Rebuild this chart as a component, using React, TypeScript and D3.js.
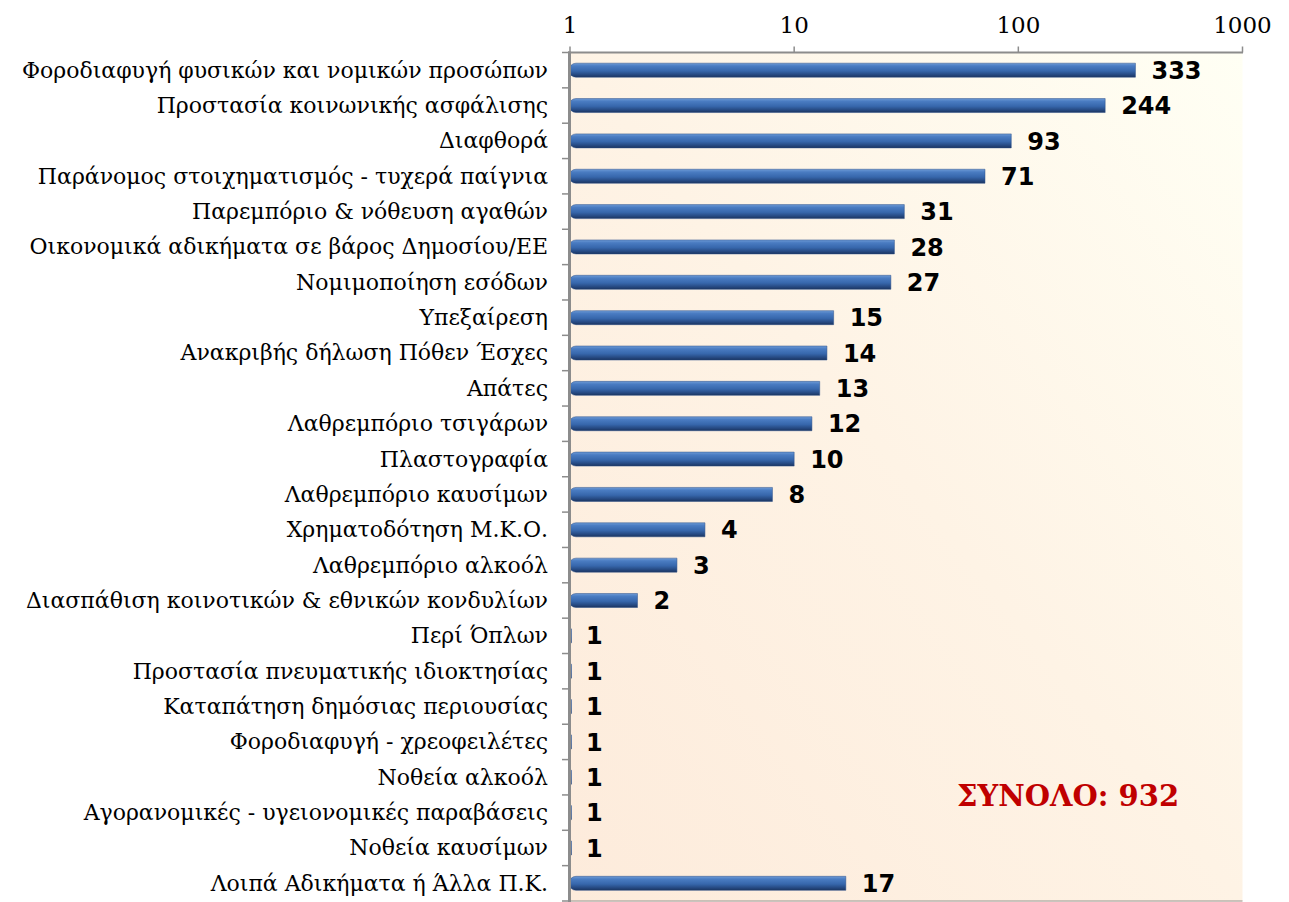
import React from "react";
import * as d3 from "d3";

const categories: string[] = [
  "Φοροδιαφυγή φυσικών και νομικών προσώπων",
  "Προστασία κοινωνικής ασφάλισης",
  "Διαφθορά",
  "Παράνομος στοιχηματισμός - τυχερά παίγνια",
  "Παρεμπόριο & νόθευση αγαθών",
  "Οικονομικά αδικήματα σε βάρος Δημοσίου/ΕΕ",
  "Νομιμοποίηση εσόδων",
  "Υπεξαίρεση",
  "Ανακριβής δήλωση Πόθεν Έσχες",
  "Απάτες",
  "Λαθρεμπόριο τσιγάρων",
  "Πλαστογραφία",
  "Λαθρεμπόριο καυσίμων",
  "Χρηματοδότηση Μ.Κ.Ο.",
  "Λαθρεμπόριο αλκοόλ",
  "Διασπάθιση κοινοτικών & εθνικών κονδυλίων",
  "Περί Όπλων",
  "Προστασία πνευματικής ιδιοκτησίας",
  "Καταπάτηση δημόσιας περιουσίας",
  "Φοροδιαφυγή - χρεοφειλέτες",
  "Νοθεία αλκοόλ",
  "Αγορανομικές - υγειονομικές παραβάσεις",
  "Νοθεία καυσίμων",
  "Λοιπά Αδικήματα ή Άλλα Π.Κ.",
];

const values: number[] = [333, 244, 93, 71, 31, 28, 27, 15, 14, 13, 12, 10, 8, 4, 3, 2, 1, 1, 1, 1, 1, 1, 1, 17];

const tickValues: number[] = [1, 10, 100, 1000];
const totalLabel = "ΣΥΝΟΛΟ: 932";

const W = 1289;
const H = 902;
const left = 570;
const right = 1242.5;
const top = 52.5;
const bottom = 901;

export default function App() {
  const x = d3.scaleLog().domain([1, 1000]).range([left, right]);
  const y = d3.scaleBand<number>().domain(d3.range(categories.length)).range([top, bottom]);
  const bw = y.bandwidth();
  const barH = 14;
  const serif = "'DejaVu Serif', 'Liberation Serif', serif";
  const sans = "'DejaVu Sans', Verdana, sans-serif";

  const barPath = (v: number, cy: number) => {
    const x0 = left - 1;
    const x1 = Math.max(x(v), x0 + 2.5);
    const r = Math.min(barH / 2, x1 - x0);
    const yt = cy - barH / 2;
    const yb = cy + barH / 2;
    return `M${x1},${yt} L${x0 + r},${yt} A${r},${barH / 2} 0 0 0 ${x0 + r},${yb} L${x1},${yb} Z`;
  };

  return (
    <div style={{ position: "absolute", left: 0, top: 0, width: W, height: H }}>
      <svg width={W} height={H} style={{ display: "block", background: "#ffffff" }}>
        <defs>
          <linearGradient id="bg" x1="1" y1="0" x2="0" y2="1">
            <stop offset="0" stopColor="#fffff4" />
            <stop offset="0.5" stopColor="#fef3e5" />
            <stop offset="1" stopColor="#fdebdb" />
          </linearGradient>
          <linearGradient id="bar" x1="0" y1="0" x2="0" y2="1">
            <stop offset="0" stopColor="#6e9bd6" />
            <stop offset="0.2" stopColor="#4a7cc2" />
            <stop offset="0.55" stopColor="#3767ac" />
            <stop offset="0.85" stopColor="#24467d" />
            <stop offset="1" stopColor="#1b345e" />
          </linearGradient>
        </defs>
        <rect x={left} y={top} width={right - left} height={bottom - top} fill="url(#bg)" />
        <line x1={left} x2={right} y1={bottom} y2={bottom} stroke="#b8b0a8" strokeWidth={1.5} />

        {values.map((v, i) => {
          const cy = (y(i) as number) + bw / 2;
          return (
            <g key={i}>
              <path d={barPath(v, cy)} fill="url(#bar)" stroke="#2a4f88" strokeWidth={0.5} />
              <text
                x={x(v) + 16}
                y={cy}
                dy="0.36em"
                fontFamily={sans}
                fontWeight="bold"
                fontSize={24}
                fill="#000"
              >
                {v}
              </text>
              <text x={548} y={cy} dy="0.34em" textAnchor="end" fontFamily={serif} fontSize={22} fill="#000">
                {categories[i]}
              </text>
            </g>
          );
        })}

        <line x1={left - 0.5} x2={left - 0.5} y1={top - 1} y2={bottom + 1} stroke="#8c8c8c" strokeWidth={3} />
        {d3.range(categories.length + 1).map((i) => {
          const yy = i < categories.length ? (y(i) as number) : bottom;
          return <line key={i} x1={left - 8} x2={left - 1} y1={yy} y2={yy} stroke="#8c8c8c" strokeWidth={1.5} />;
        })}

        <line x1={left - 2} x2={right + 0.5} y1={top} y2={top} stroke="#8c8c8c" strokeWidth={2} />
        {tickValues.map((t) => (
          <g key={t}>
            <line x1={x(t)} x2={x(t)} y1={top} y2={top - 6} stroke="#8c8c8c" strokeWidth={1.5} />
            <text x={x(t)} y={33} textAnchor="middle" fontFamily={serif} fontSize={23} fill="#000">
              {t}
            </text>
          </g>
        ))}

        <text x={957} y={806} fontFamily={serif} fontWeight="bold" fontSize={29} fill="#c00000">
          {totalLabel}
        </text>
      </svg>
    </div>
  );
}
